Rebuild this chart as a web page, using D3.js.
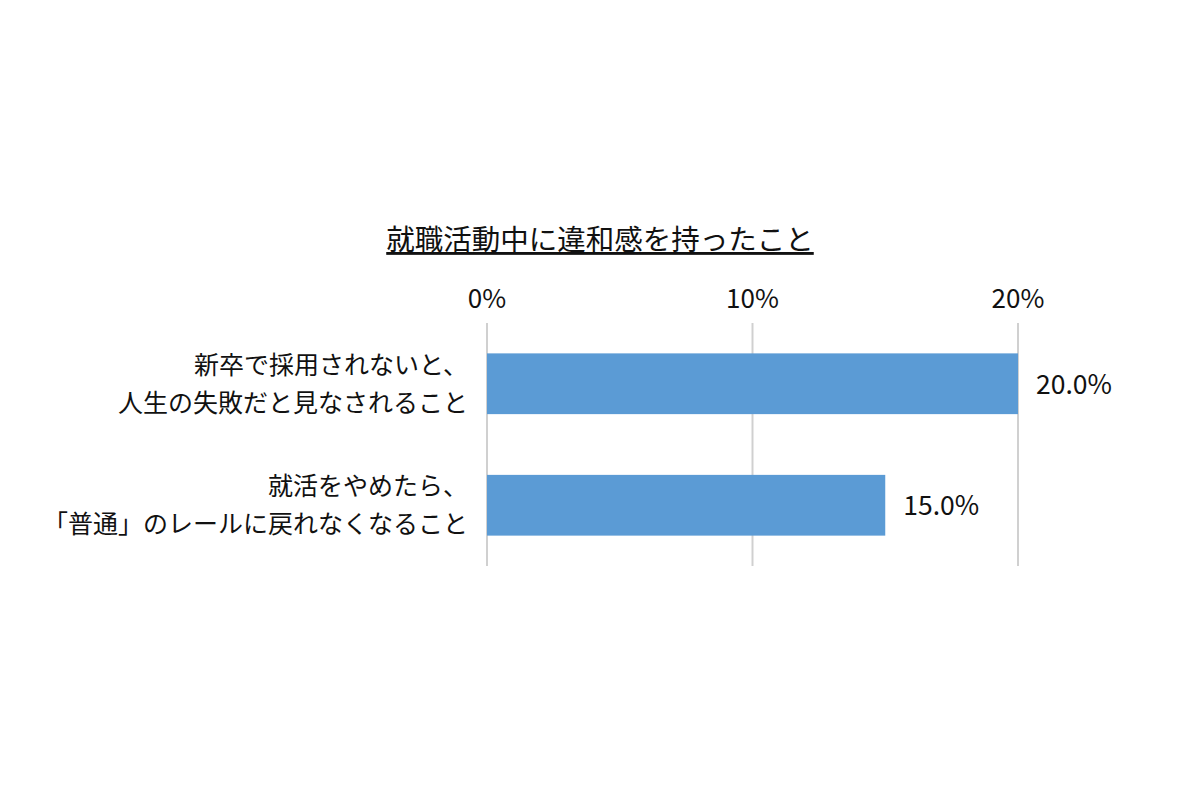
<!DOCTYPE html>
<html><head><meta charset="utf-8">
<script src="https://cdn.jsdelivr.net/npm/d3@7"></script>
<style>body{margin:0;background:#fff}text{font-family:"Noto Sans CJK JP","Noto Sans",sans-serif;fill:#111}</style>
</head><body>
<script>
const title = "就職活動中に違和感を持ったこと";
const categories = [
  ["新卒で採用されないと、", "人生の失敗だと見なされること"],
  ["就活をやめたら、", "「普通」のレールに戻れなくなること"]
];
const values = [20.0, 15.0];
const ticks = [0, 10, 20];

const svg = d3.select("body").append("svg").attr("width", 1200).attr("height", 800);
const x = d3.scaleLinear().domain([0, 20]).range([487, 1018]);
const y = d3.scaleBand().domain(d3.range(values.length)).range([323, 566]).paddingInner(0.5).paddingOuter(0.25);

svg.append("text").attr("x", 600).attr("y", 250).attr("text-anchor", "middle")
  .attr("font-size", 28.5).attr("text-decoration", "underline").text(title);

svg.selectAll(".grid").data(ticks).join("line")
  .attr("x1", d => x(d)).attr("x2", d => x(d)).attr("y1", 323).attr("y2", 566)
  .attr("stroke", "#d0d0d0").attr("stroke-width", 2);

svg.selectAll(".tick").data(ticks).join("text")
  .attr("x", d => x(d)).attr("y", 308).attr("text-anchor", "middle")
  .attr("font-size", 26).text(d => d + "%");

svg.selectAll(".bar").data(values).join("rect")
  .attr("x", x(0)).attr("y", (d, i) => y(i)).attr("width", d => x(d) - x(0))
  .attr("height", y.bandwidth()).attr("fill", "#5b9bd5");

svg.selectAll(".val").data(values).join("text")
  .attr("x", d => x(d) + 18).attr("y", (d, i) => y(i) + y.bandwidth() / 2 + 10)
  .attr("font-size", 26.5).text(d => d.toFixed(1) + "%");

categories.forEach((lines, i) => {
  const t = svg.append("text").attr("text-anchor", "end").attr("font-size", 25)
    .attr("x", 468).attr("y", y(i) + y.bandwidth() / 2 - 10);
  lines.forEach((l, j) => t.append("tspan").attr("x", 468).attr("dy", j ? 38 : 0).text(l));
});
</script>
</body></html>
